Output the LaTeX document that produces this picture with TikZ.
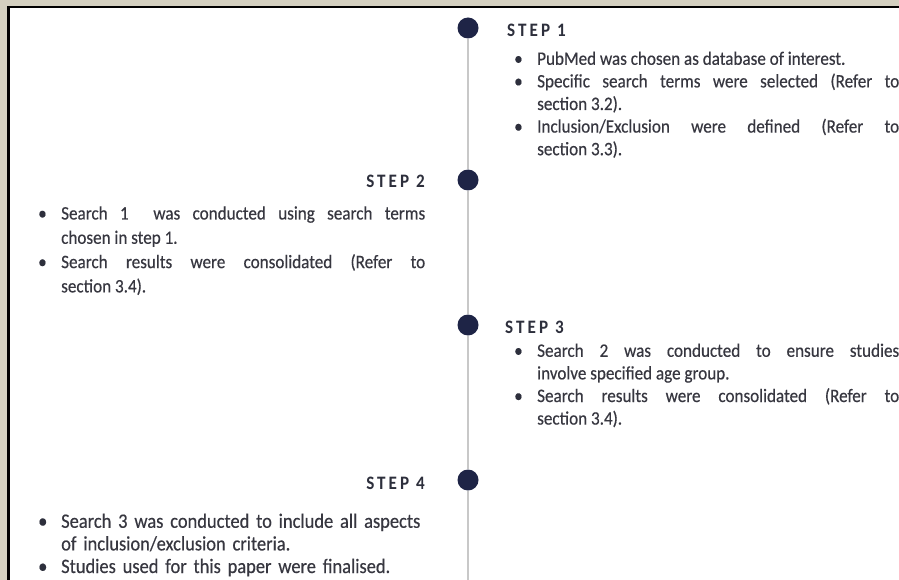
\documentclass[tikz,border=0pt]{standalone}
\usepackage{fontspec}
\setmainfont{Carlito}[FakeStretch=0.9, UprightFeatures={FakeBold=0.4}]
\usepackage{xcolor}
\definecolor{framebg}{RGB}{212,208,192}
\definecolor{dotnavy}{RGB}{30,36,70}
\definecolor{linegray}{RGB}{200,200,200}
\definecolor{textgray}{RGB}{55,55,64}
\definecolor{headgray}{RGB}{45,47,60}
\newcommand{\bitem}[1]{\par\hangindent=24pt\hangafter=1\noindent\makebox[24pt][l]{\hspace{1pt}\textcolor{headgray}{\textbullet}}\strut#1\par}

\begin{document}
\begin{tikzpicture}[x=1pt, y=-1pt,
    dot/.style={circle, fill=dotnavy, minimum size=21pt, inner sep=0},
    timeline/.style={linegray, line width=2pt},
    stephead/.style={text=headgray, inner sep=0, font=\fontsize{19}{20}\selectfont\bfseries\addfontfeature{LetterSpace=16}},
    stepbody/.style={text=textgray, inner sep=0, anchor=north west, text width=388pt, align=justify, font=\fontsize{19}{22.6}\selectfont}]
    \useasboundingbox (0,0) rectangle (899,580);
    % frame
    \fill[framebg] (0,0) rectangle (899,580);
    \fill[white] (8,7) rectangle (899,580);
    \draw[line width=2.5pt] (8.3,580) -- (8.3,7.2) -- (899,7.2);

    % timeline
    \node[dot] at (468,28) (d1) {};
    \node[dot] at (468,180) (d2) {};
    \node[dot] at (468,325) (d3) {};
    \node[dot] at (468,480) (d4) {};
    \coordinate (tlend) at (468,580);
    \draw[timeline] (d1) -- (d2);
    \draw[timeline] (d2) -- (d3);
    \draw[timeline] (d3) -- (d4);
    \draw[timeline] (d4) -- (tlend);

    % steps
    \node[stephead, anchor=base west] at (507,37) (h1) {STEP 1};
    \node[stepbody, text width=386pt] at (513,42) (b1) {%
        \bitem{PubMed was chosen as database of interest.}
        \bitem{Specific search terms were selected (Refer to\linebreak section 3.2).}
        \bitem{Inclusion/Exclusion were defined (Refer to\linebreak section 3.3).}};

    \node[stephead, anchor=base east] at (425,188) (h2) {STEP 2};
    \node[stepbody, font=\fontsize{19}{24.3}\selectfont] at (37,195) (b2) {%
        \bitem{Search 1\ \ was conducted using search terms\linebreak chosen in step 1.}
        \bitem{Search results were consolidated (Refer to\linebreak section 3.4).}};

    \node[stephead, anchor=base west] at (505,333) (h3) {STEP 3};
    \node[stepbody, text width=386pt] at (513,334) (b3) {%
        \bitem{Search 2 was conducted to ensure studies\linebreak involve specified age group.}
        \bitem{Search results were consolidated (Refer to\linebreak section 3.4).}};

    \node[stephead, anchor=base east] at (425,489) (h4) {STEP 4};
    \node[stepbody, align=left, text width=396pt, font=\fontsize{20.5}{22.6}\selectfont] at (37,505) (b4) {%
        \bitem{Search 3 was conducted to include all aspects\linebreak of inclusion/exclusion criteria.}
        \bitem{Studies used for this paper were finalised.}};
\end{tikzpicture}
\end{document}
